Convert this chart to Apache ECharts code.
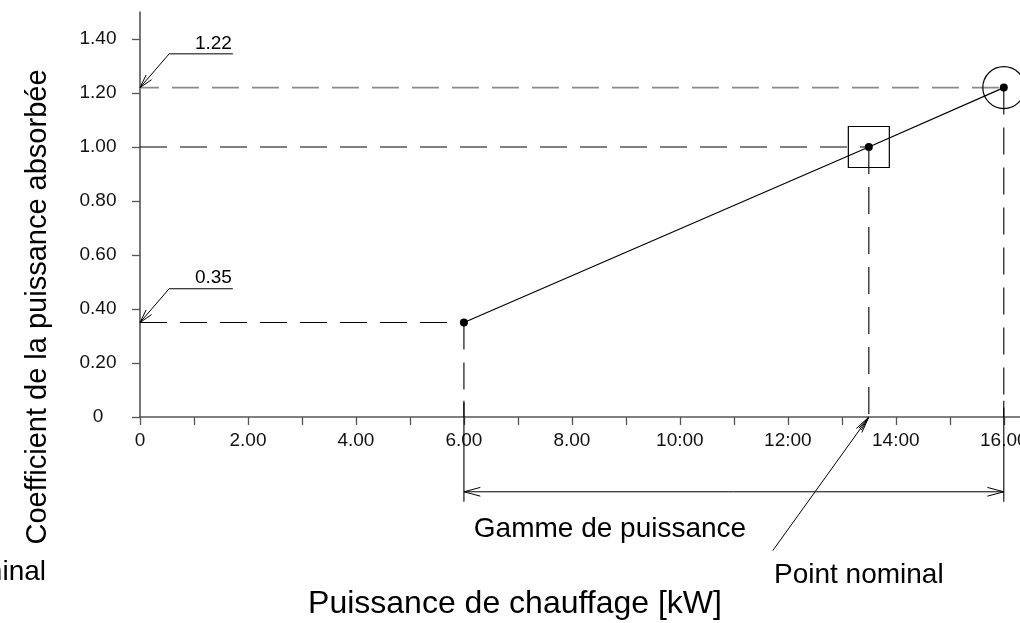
<!DOCTYPE html>
<html><head><meta charset="utf-8">
<script src="https://cdn.jsdelivr.net/npm/echarts@6/dist/echarts.min.js"></script>
<style>html,body{margin:0;padding:0;background:#fff}#c{width:1020px;height:623px}</style>
</head><body><div id="c"></div>
<script>
// ---- data ----
const powerKW = [6, 13.5, 16];
const coefficient = [0.35, 1.00, 1.22];
const xTickValues = [0,1,2,3,4,5,6,7,8,9,10,11,12,13,14,15,16];
const xLabelValues = [0,2,4,6,8,10,12,14,16];
const xLabelTexts = ['0','2.00','4.00','6.00','8.00','10:00','12:00','14:00','16.00'];
const yLabelValues = [0,0.2,0.4,0.6,0.8,1.0,1.2,1.4];
const yLabelTexts = ['0','0.20','0.40','0.60','0.80','1.00','1.20','1.40'];
const calloutTexts = ['1.22','0.35'];
const calloutLevels = [1.22, 0.35];
const calloutBendX = 0.54, calloutEndX = 1.72, calloutRise = 0.125;
const rangeLevel = -0.277;      // "Gamme de puissance" dimension line
const extensionEnd = -0.314;    // bottom of extension lines
const nominalLeaderEnd = [11.72, -0.495];
const xMin = 0, xMax = 16.3, yMin = 0, yMax = 1.5;

const FONT = '"Liberation Sans", Arial, sans-serif';

// ---- helper series ----
function seg(points, color, width, dashed){
  return {
    type:'line', data: points, clip:false, silent:true, symbol:'none',
    lineStyle:{color: color, width: width, type: dashed ? [27,13] : 'solid'},
    animation:false, z:2
  };
}
const series = [];
// horizontal dashed reference lines
series.push(seg([[0, coefficient[0]],[powerKW[0], coefficient[0]]], '#000', 1.1, true));
series.push(seg([[0, coefficient[1]],[powerKW[1], coefficient[1]]], '#000', 1.1, true));
series.push(seg([[-0.15, coefficient[2]],[powerKW[2], coefficient[2]]], '#8a8a8a', 1.6, true));
// vertical dashed reference lines (drawn from the point downward)
series.push(seg([[powerKW[0], coefficient[0]],[powerKW[0], 0]], '#000', 1.1, true));
series.push(seg([[powerKW[1], coefficient[1]],[powerKW[1], 0]], '#000', 1.1, true));
series.push(seg([[powerKW[2], coefficient[2]],[powerKW[2], 0]], '#000', 1.1, true));
// extension lines for the range dimension
series.push(seg([[powerKW[0], 0.06],[powerKW[0], extensionEnd]], '#000', 1.1, false));
series.push(seg([[powerKW[2], 0.06],[powerKW[2], extensionEnd]], '#000', 1.1, false));
// main curve
series.push({
  type:'line', data: powerKW.map((x,i)=>[x, coefficient[i]]), clip:false,
  symbol:'circle', symbolSize:8, itemStyle:{color:'#000'},
  lineStyle:{color:'#000', width:1.2}, animation:false, z:5
});

// ---- annotations (custom series) ----
const annotations = [
  {kind:'callout', pts:[[0,calloutLevels[0]],[calloutBendX,calloutLevels[0]+calloutRise],[calloutEndX,calloutLevels[0]+calloutRise]], text:calloutTexts[0]},
  {kind:'callout', pts:[[0,calloutLevels[1]],[calloutBendX,calloutLevels[1]+calloutRise],[calloutEndX,calloutLevels[1]+calloutRise]], text:calloutTexts[1]},
  {kind:'dim', pts:[[powerKW[0], rangeLevel],[powerKW[2], rangeLevel]]},
  {kind:'leader', pts:[[powerKW[1], 0], nominalLeaderEnd]},
  {kind:'circle', pts:[[powerKW[2], coefficient[2]]]},
  {kind:'square', pts:[[powerKW[1], coefficient[1]]]}
];
function arrowHead(tip, from, len, half){
  const dx = from[0]-tip[0], dy = from[1]-tip[1];
  const d = Math.sqrt(dx*dx+dy*dy); const ux = dx/d, uy = dy/d;
  const c = Math.cos(half), s = Math.sin(half);
  const a = [tip[0] + len*(ux*c - uy*s), tip[1] + len*(uy*c + ux*s)];
  const b = [tip[0] + len*(ux*c + uy*s), tip[1] + len*(uy*c - ux*s)];
  return {type:'polyline', shape:{points:[a, tip, b]}, style:{stroke:'#000', lineWidth:1, fill:null}};
}
series.push({
  type:'custom', coordinateSystem:'cartesian2d', clip:false, silent:true, animation:false, z:6,
  data: annotations.map((a,i)=>[i]),
  encode:{x:0, y:0},
  renderItem: function(params, api){
    const a = annotations[params.dataIndex];
    const P = a.pts.map(p=>api.coord(p));
    const children = [];
    const lineStyle = {stroke:'#000', lineWidth:1, fill:null};
    if (a.kind === 'callout'){
      children.push({type:'polyline', shape:{points:P}, style:lineStyle});
      children.push(arrowHead(P[0], P[1], 14, 0.26));
      const e = P[P.length-1];
      children.push({type:'text', x:e[0]-1, y:e[1]-1, style:{text:a.text, fontSize:19, fontFamily:FONT, fill:'#000', align:'right', verticalAlign:'bottom'}});
    } else if (a.kind === 'dim'){
      children.push({type:'polyline', shape:{points:P}, style:lineStyle});
      children.push(arrowHead(P[0], P[1], 17, 0.26));
      children.push(arrowHead(P[1], P[0], 17, 0.26));
    } else if (a.kind === 'leader'){
      children.push({type:'polyline', shape:{points:P}, style:lineStyle});
      children.push(arrowHead(P[0], P[1], 17, 0.2));
      children.push(arrowHead(P[0], P[1], 15, 0.1));
    } else if (a.kind === 'circle'){
      children.push({type:'circle', shape:{cx:P[0][0], cy:P[0][1], r:21}, style:{stroke:'#000', lineWidth:1.2, fill:null}});
    } else if (a.kind === 'square'){
      children.push({type:'rect', shape:{x:P[0][0]-20.5, y:P[0][1]-20.5, width:41, height:41}, style:{stroke:'#000', lineWidth:1.2, fill:null}});
    }
    return {type:'group', children: children};
  }
});

const chart = echarts.init(document.getElementById('c'), null, {renderer:'canvas'});
chart.setOption({
  animation:false,
  backgroundColor:'#fff',
  grid:{left:140, right:0, top:12, bottom:206, containLabel:false, outerBoundsMode:'none'},
  xAxis:{
    type:'value', min:xMin, max:xMax,
    axisLine:{show:true, onZero:false, lineStyle:{color:'#555', width:1.6}},
    axisTick:{show:true, length:8, customValues:xTickValues, lineStyle:{color:'#555', width:1.3}},
    axisLabel:{customValues:xLabelValues, margin:14, fontSize:19, fontFamily:FONT, color:'#111',
      formatter:v=>xLabelTexts[xLabelValues.indexOf(Math.round(v))]},
    splitLine:{show:false}
  },
  yAxis:{
    type:'value', min:yMin, max:yMax,
    axisLine:{show:true, onZero:false, lineStyle:{color:'#555', width:1.6}},
    axisTick:{show:true, length:8, customValues:yLabelValues, lineStyle:{color:'#555', width:1.3}},
    axisLabel:{customValues:yLabelValues, margin:42, align:'center', fontSize:19, fontFamily:FONT, color:'#111',
      formatter:v=>yLabelTexts[yLabelValues.findIndex(t=>Math.abs(t-v)<1e-6)]},
    splitLine:{show:false}
  },
  graphic:[
    {type:'text', x:38, y:307, rotation:Math.PI/2, style:{text:'Coefficient de la puissance absorbée', fontSize:29, fontFamily:FONT, fill:'#000', align:'center', verticalAlign:'middle'}},
    {type:'text', x:515, y:604, style:{text:'Puissance de chauffage [kW]', fontSize:32, fontFamily:FONT, fill:'#000', align:'center', verticalAlign:'middle'}},
    {type:'text', x:610, y:529, style:{text:'Gamme de puissance', fontSize:28, fontFamily:FONT, fill:'#000', align:'center', verticalAlign:'middle'}},
    {type:'text', x:774, y:575, style:{text:'Point nominal', fontSize:28, fontFamily:FONT, fill:'#000', align:'left', verticalAlign:'middle'}},
    {type:'text', x:46, y:572, style:{text:'Point nominal', fontSize:28, fontFamily:FONT, fill:'#000', align:'right', verticalAlign:'middle'}}
  ],
  series: series
});
</script>
</body></html>
